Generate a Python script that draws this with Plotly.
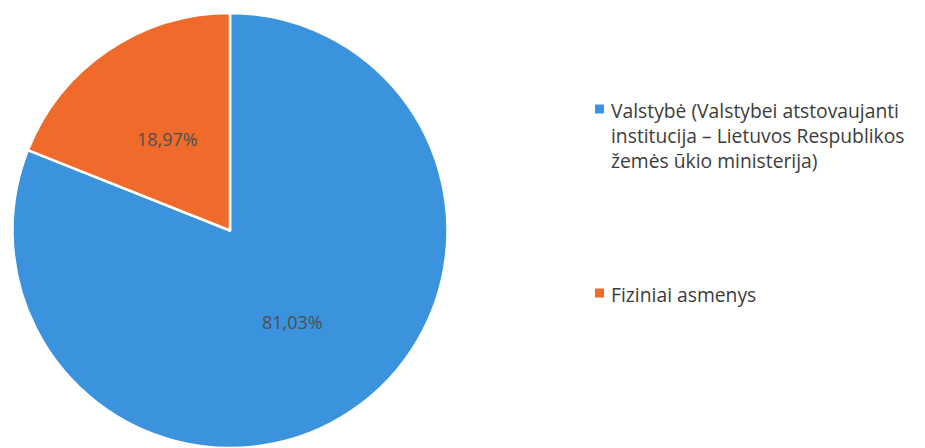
import math
import plotly.graph_objects as go

labels = [
    "Valstybė (Valstybei atstovaujanti<br>institucija – Lietuvos Respublikos<br>žemės ūkio ministerija)",
    "Fiziniai asmenys",
]
values = [81.03, 18.97]
colors = ["#3b92dd", "#f06b2b"]
texts = [f"{v:.2f}%".replace(".", ",") for v in values]

W, H = 925, 448
dom_x = [10 / W, 450 / W]
dom_y = [0, 1 - 13 / H]

fig = go.Figure()
fig.add_trace(go.Pie(
    labels=labels,
    values=values,
    text=texts,
    textinfo="none",
    marker=dict(colors=colors, line=dict(color="white", width=2.5)),
    sort=False,
    direction="clockwise",
    rotation=0,
    showlegend=False,
    hoverinfo="label+percent",
    domain=dict(x=dom_x, y=dom_y),
))

# slice labels placed at half radius along each slice's mid angle
cx = (dom_x[0] + dom_x[1]) / 2 * W
cy = (1 - (dom_y[0] + dom_y[1]) / 2) * H
R = min((dom_x[1] - dom_x[0]) * W, (dom_y[1] - dom_y[0]) * H) / 2
total = sum(values)
cum = 0.0
for v, t in zip(values, texts):
    mid = (cum + v / 2) / total * 2 * math.pi
    cum += v
    px = cx + 0.51 * R * math.sin(mid)
    py = cy - 0.51 * R * math.cos(mid)
    fig.add_annotation(xref="paper", yref="paper", x=px / W, y=1 - py / H,
                       xanchor="center", yanchor="middle", showarrow=False, text=t,
                       font=dict(family="Open Sans, sans-serif", size=18, color="#4f4f4f"))

# legend as annotations
leg_y = [109, 293]
for lab, col, y in zip(labels, colors, leg_y):
    fig.add_shape(type="rect", xref="paper", yref="paper",
                  x0=595 / W, x1=604 / W, y0=1 - (y + 4.5) / H, y1=1 - (y - 4.5) / H,
                  fillcolor=col, line=dict(width=0))
    fig.add_annotation(xref="paper", yref="paper", x=609 / W, y=1 - (y - 14.5) / H,
                       xanchor="left", yanchor="top", align="left", showarrow=False,
                       text=lab,
                       font=dict(family="Open Sans, sans-serif", size=19.3, color="#3c3c3c"))

fig.update_layout(
    width=W, height=H,
    margin=dict(l=0, r=0, t=0, b=0),
    paper_bgcolor="white",
    plot_bgcolor="white",
)
fig.write_html("out.html", config={"displayModeBar": False},
               post_script="document.body.style.margin='0';")
